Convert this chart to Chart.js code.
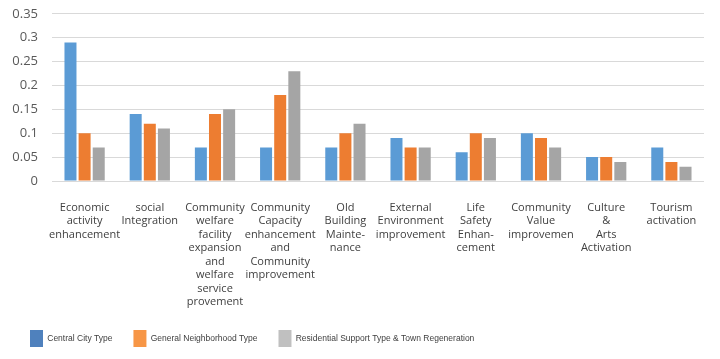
<!DOCTYPE html>
<html>
<head>
<meta charset="utf-8">
<script src="https://cdn.jsdelivr.net/npm/chart.js@4/dist/chart.umd.min.js"></script>
<style>
html,body{margin:0;padding:0;background:#fff;}
#wrap{width:720px;height:359px;position:relative;}
</style>
</head>
<body>
<div id="wrap"><canvas id="c"></canvas></div>
<script>
const categories = [
  ["Economic","activity","enhancement"],
  ["social","Integration"],
  ["Community","welfare","facility","expansion","and","welfare","service","provement"],
  ["Community","Capacity","enhancement","and","Community","improvement"],
  ["Old","Building","Mainte-","nance"],
  ["External","Environment","improvement"],
  ["Life","Safety","Enhan-","cement"],
  ["Community","Value","improvemen"],
  ["Culture","&","Arts","Activation"],
  ["Tourism","activation"]
];
const seriesNames = ["Central City Type","General Neighborhood Type","Residential Support Type & Town Regeneration"];
const centralCity = [0.29,0.14,0.07,0.07,0.07,0.09,0.06,0.10,0.05,0.07];
const generalNeighborhood = [0.10,0.12,0.14,0.18,0.10,0.07,0.10,0.09,0.05,0.04];
const residentialSupport = [0.07,0.11,0.15,0.23,0.12,0.07,0.09,0.07,0.04,0.03];
const yTicks = [0,0.05,0.1,0.15,0.2,0.25,0.3,0.35];

const barColors = ["#5B9BD5","#ED7D31","#A5A5A5"];
const legendColors = ["#4F81BD","#F79646","#C0C0C0"];

new Chart(document.getElementById('c'), {
  type: 'bar',
  data: {
    labels: categories,
    datasets: [
      {label: seriesNames[0], data: centralCity, backgroundColor: barColors[0]},
      {label: seriesNames[1], data: generalNeighborhood, backgroundColor: barColors[1]},
      {label: seriesNames[2], data: residentialSupport, backgroundColor: barColors[2]}
    ]
  },
  options: {
    responsive: true,
    maintainAspectRatio: false,
    animation: false,
    layout: {padding: {left: 9, right: 16, top: 6, bottom: 2}},
    datasets: {bar: {categoryPercentage: 0.65, barPercentage: 0.85, borderWidth: 0}},
    plugins: {
      tooltip: {enabled: false},
      legend: {
        position: 'bottom',
        align: 'start',
        labels: {
          boxWidth: 13,
          boxHeight: 17,
          padding: 21,
          color: '#404040',
          font: {family: '"Liberation Sans", sans-serif', size: 8.5},
          generateLabels: (chart) => chart.data.datasets.map((ds, i) => ({
            text: ds.label,
            fillStyle: legendColors[i],
            strokeStyle: legendColors[i],
            lineWidth: 0,
            hidden: false,
            datasetIndex: i,
            fontColor: '#404040'
          }))
        }
      }
    },
    scales: {
      x: {
        grid: {display: false, drawTicks: false},
        border: {display: false},
        ticks: {
          autoSkip: false, maxRotation: 0, minRotation: 0,
          padding: 20,
          color: '#404040',
          font: {family: '"Open Sans", sans-serif', size: 11, lineHeight: 13.5/11}
        },
        afterFit: (s) => { s.height = 128; }
      },
      y: {
        min: 0, max: 0.35,
        grid: {color: '#D9D9D9', lineWidth: 1, drawTicks: true, tickLength: 8, tickColor: 'rgba(0,0,0,0)'},
        border: {display: false},
        afterBuildTicks: (s) => { s.ticks = yTicks.map(v => ({value: v})); },
        ticks: {
          padding: 6,
          color: '#595959',
          font: {family: '"Open Sans", sans-serif', size: 13},
          callback: (v) => String(Math.round(v * 100) / 100)
        },
        afterFit: (s) => { s.width = 43; }
      }
    }
  }
});
</script>
</body>
</html>
